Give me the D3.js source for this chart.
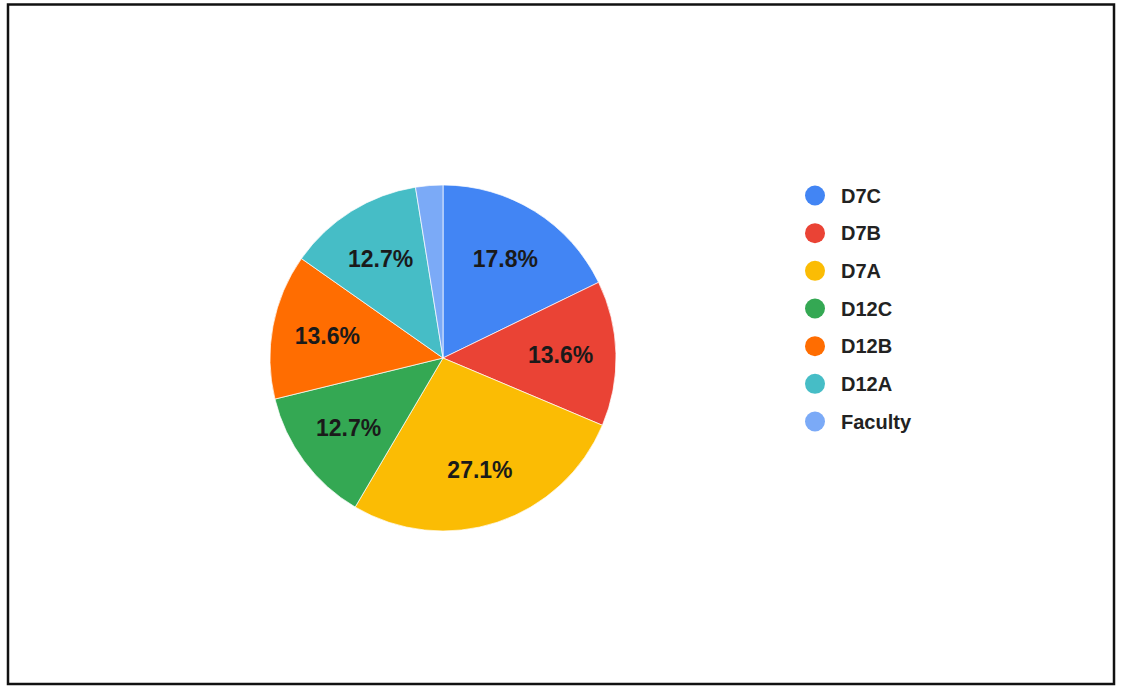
<!DOCTYPE html>
<html>
<head>
<meta charset="utf-8">
<script src="https://cdn.jsdelivr.net/npm/d3@7"></script>
<style>
  body { margin: 0; background: #fff; }
  svg { display: block; font-family: Arial, "Liberation Sans", sans-serif; }
</style>
</head>
<body>
<svg></svg>
<script>
var width = 1123;
var height = 686;

// Slice data (student counts read back from the percentages)
var groups = ['D7C', 'D7B', 'D7A', 'D12C', 'D12B', 'D12A', 'Faculty'];
var counts = [21, 16, 32, 15, 16, 15, 3];
var colors = ['#4285f4', '#ea4335', '#fbbc04', '#34a853', '#ff6d01', '#46bdc6', '#7baaf7'];

var data = groups.map((g, i) => ({ group: g, count: counts[i] }));
var total = d3.sum(counts);

var colorScale = d3.scaleOrdinal()
                    .domain(groups)
                    .range(colors);

var svg = d3.select('svg')
        .attr('width', width)
        .attr('height', height);

// outer frame
svg.append('rect')
    .attr('x', 8)
    .attr('y', 4.5)
    .attr('width', 1106)
    .attr('height', 679.5)
    .attr('fill', 'none')
    .attr('stroke', '#111')
    .attr('stroke-width', 2.5);

var radius = 173;
var chart = svg.append('g')
        .attr('transform', 'translate(443, 358)');

var arcs = d3.pie()
            .sort(null)
            .value(d => d.count)
            (data);

var path = d3.arc()
            .outerRadius(radius)
            .innerRadius(0);

var labelArc = d3.arc()
            .outerRadius(radius * 0.68)
            .innerRadius(radius * 0.68);

chart.selectAll('.arc')
    .data(arcs)
    .enter()
    .append('path')
        .classed('arc', true)
        .attr('fill', d => colorScale(d.data.group))
        .attr('stroke', '#fff')
        .attr('stroke-width', 0.7)
        .attr('d', path);

// percentage labels, skip the tiny slice
chart.selectAll('.pct')
    .data(arcs.filter(d => d.data.count / total > 0.05))
    .enter()
    .append('text')
        .classed('pct', true)
        .attr('transform', d => `translate(${labelArc.centroid(d)})`)
        .attr('text-anchor', 'middle')
        .attr('dy', '0.36em')
        .attr('font-size', 23)
        .attr('font-weight', 'bold')
        .attr('fill', '#1a1a1a')
        .text(d => (d.data.count / total * 100).toFixed(1) + '%');

// legend
var legendY = d3.scalePoint()
                .domain(groups)
                .range([195.5, 421.5]);

var legend = svg.append('g')
        .selectAll('g')
        .data(groups)
        .enter()
        .append('g')
            .attr('transform', d => `translate(815, ${legendY(d)})`);

legend.append('circle')
    .attr('r', 10)
    .attr('fill', d => colorScale(d));

legend.append('text')
    .attr('x', 26)
    .attr('dy', '0.36em')
    .attr('font-size', 20)
    .attr('font-weight', 'bold')
    .attr('fill', '#222')
    .text(d => d);
</script>
</body>
</html>
